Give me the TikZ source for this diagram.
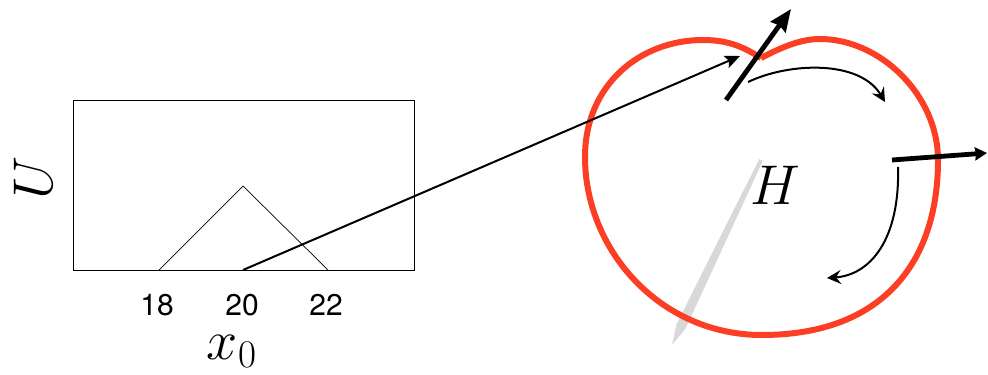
\RequirePackage{fix-cm}
\documentclass[tikz,border=0pt]{standalone}
\usepackage{fontspec}
\usepackage{tikz}
\usetikzlibrary{arrows.meta}
\newfontfamily\ticksfont{TeX Gyre Heros}
\definecolor{heartred}{RGB}{252,62,36}
\definecolor{spikegray}{RGB}{216,216,216}
\tikzset{
  plotframe/.style={
    draw=black,
    line width=0.5pt
  },
  peakline/.style={
    draw=black,
    line width=0.35pt
  },
  ticklabel/.style={
    anchor=base,
    inner sep=0pt,
    font=\ticksfont\fontsize{15}{18}\selectfont
  },
  mathlabel/.style={
    anchor=base,
    inner sep=0pt,
    font=\fontsize{28}{32}\selectfont
  },
  maparrow/.style={
    -{Stealth[length=7.5pt,width=6.5pt,inset=1.5pt]},
    line width=1pt
  },
  normalarrow/.style={
    -{Stealth[length=11pt,width=9pt,inset=1pt]},
    line width=2.4pt
  },
  outarrow/.style={
    -{Stealth[length=6pt,width=6.5pt,inset=0.5pt]},
    line width=2.4pt
  },
  flowarrow/.style={
    -{Stealth[length=7pt,width=7pt,inset=2.5pt]},
    line width=1pt
  }
}

\begin{document}
\begin{tikzpicture}[x=0.5pt,y=-0.5pt]
  \useasboundingbox (0,0) rectangle (988,374);

  % left panel: U against x_0
  \draw[plotframe] (73,100) rectangle (414,270);
  \coordinate (left18) at (159,270);
  \coordinate (peak) at (243,186);
  \coordinate (right22) at (328,270);
  \coordinate (base20) at (243,270);
  \draw[peakline] (left18) -- (peak) -- (right22);
  \node[ticklabel] (t18) at (157,315) {18};
  \node[ticklabel] (t20) at (242,315) {20};
  \node[ticklabel] (t22) at (326,315) {22};
  \node[mathlabel] (xlab) at (232,359) {$x_0$};
  \node[mathlabel, rotate=90] (ulab) at (52,178) {$U$};

  % grey spike behind the surface
  \fill[spikegray] (759.2,159.1) -- (762.8,160.9) -- (685.5,328.7)
    -- (672,345) -- (676.5,324.3) -- cycle;

  % the surface H
  \coordinate (dip) at (761,58);
  \draw[heartred, line width=3pt, line join=round]
    (dip) .. controls (780,48) and (800,39) .. (820,39)
    .. controls (880,39) and (938,95) .. (938,160)
    .. controls (938,265) and (880,335) .. (762,335)
    .. controls (660,335) and (585,250) .. (585,157)
    .. controls (585,85) and (640,40) .. (703,40)
    .. controls (730,40) and (745,48) .. (dip);
  \node[mathlabel] (hlab) at (775,204) {$H$};

  % map from the parameter to the surface
  \coordinate (hit) at (740,56);
  \draw[maparrow] (base20) -- (hit);

  % normals
  \coordinate (nfoot) at (726,100);
  \coordinate (ntip) at (791,9);
  \draw[normalarrow] (nfoot) -- (ntip);
  \coordinate (rfoot) at (892,160);
  \coordinate (rtip) at (987,153);
  \draw[outarrow] (rfoot) -- (rtip);

  % motion along the surface
  \coordinate (a1) at (748,82);
  \coordinate (a2) at (885,102);
  \draw[flowarrow] (a1) .. controls (790,62) and (860,60) .. (a2);
  \coordinate (b1) at (898,167);
  \coordinate (b2) at (827,278);
  \draw[flowarrow] (b1) .. controls (900,240) and (870,275) .. (b2);
\end{tikzpicture}
\end{document}
